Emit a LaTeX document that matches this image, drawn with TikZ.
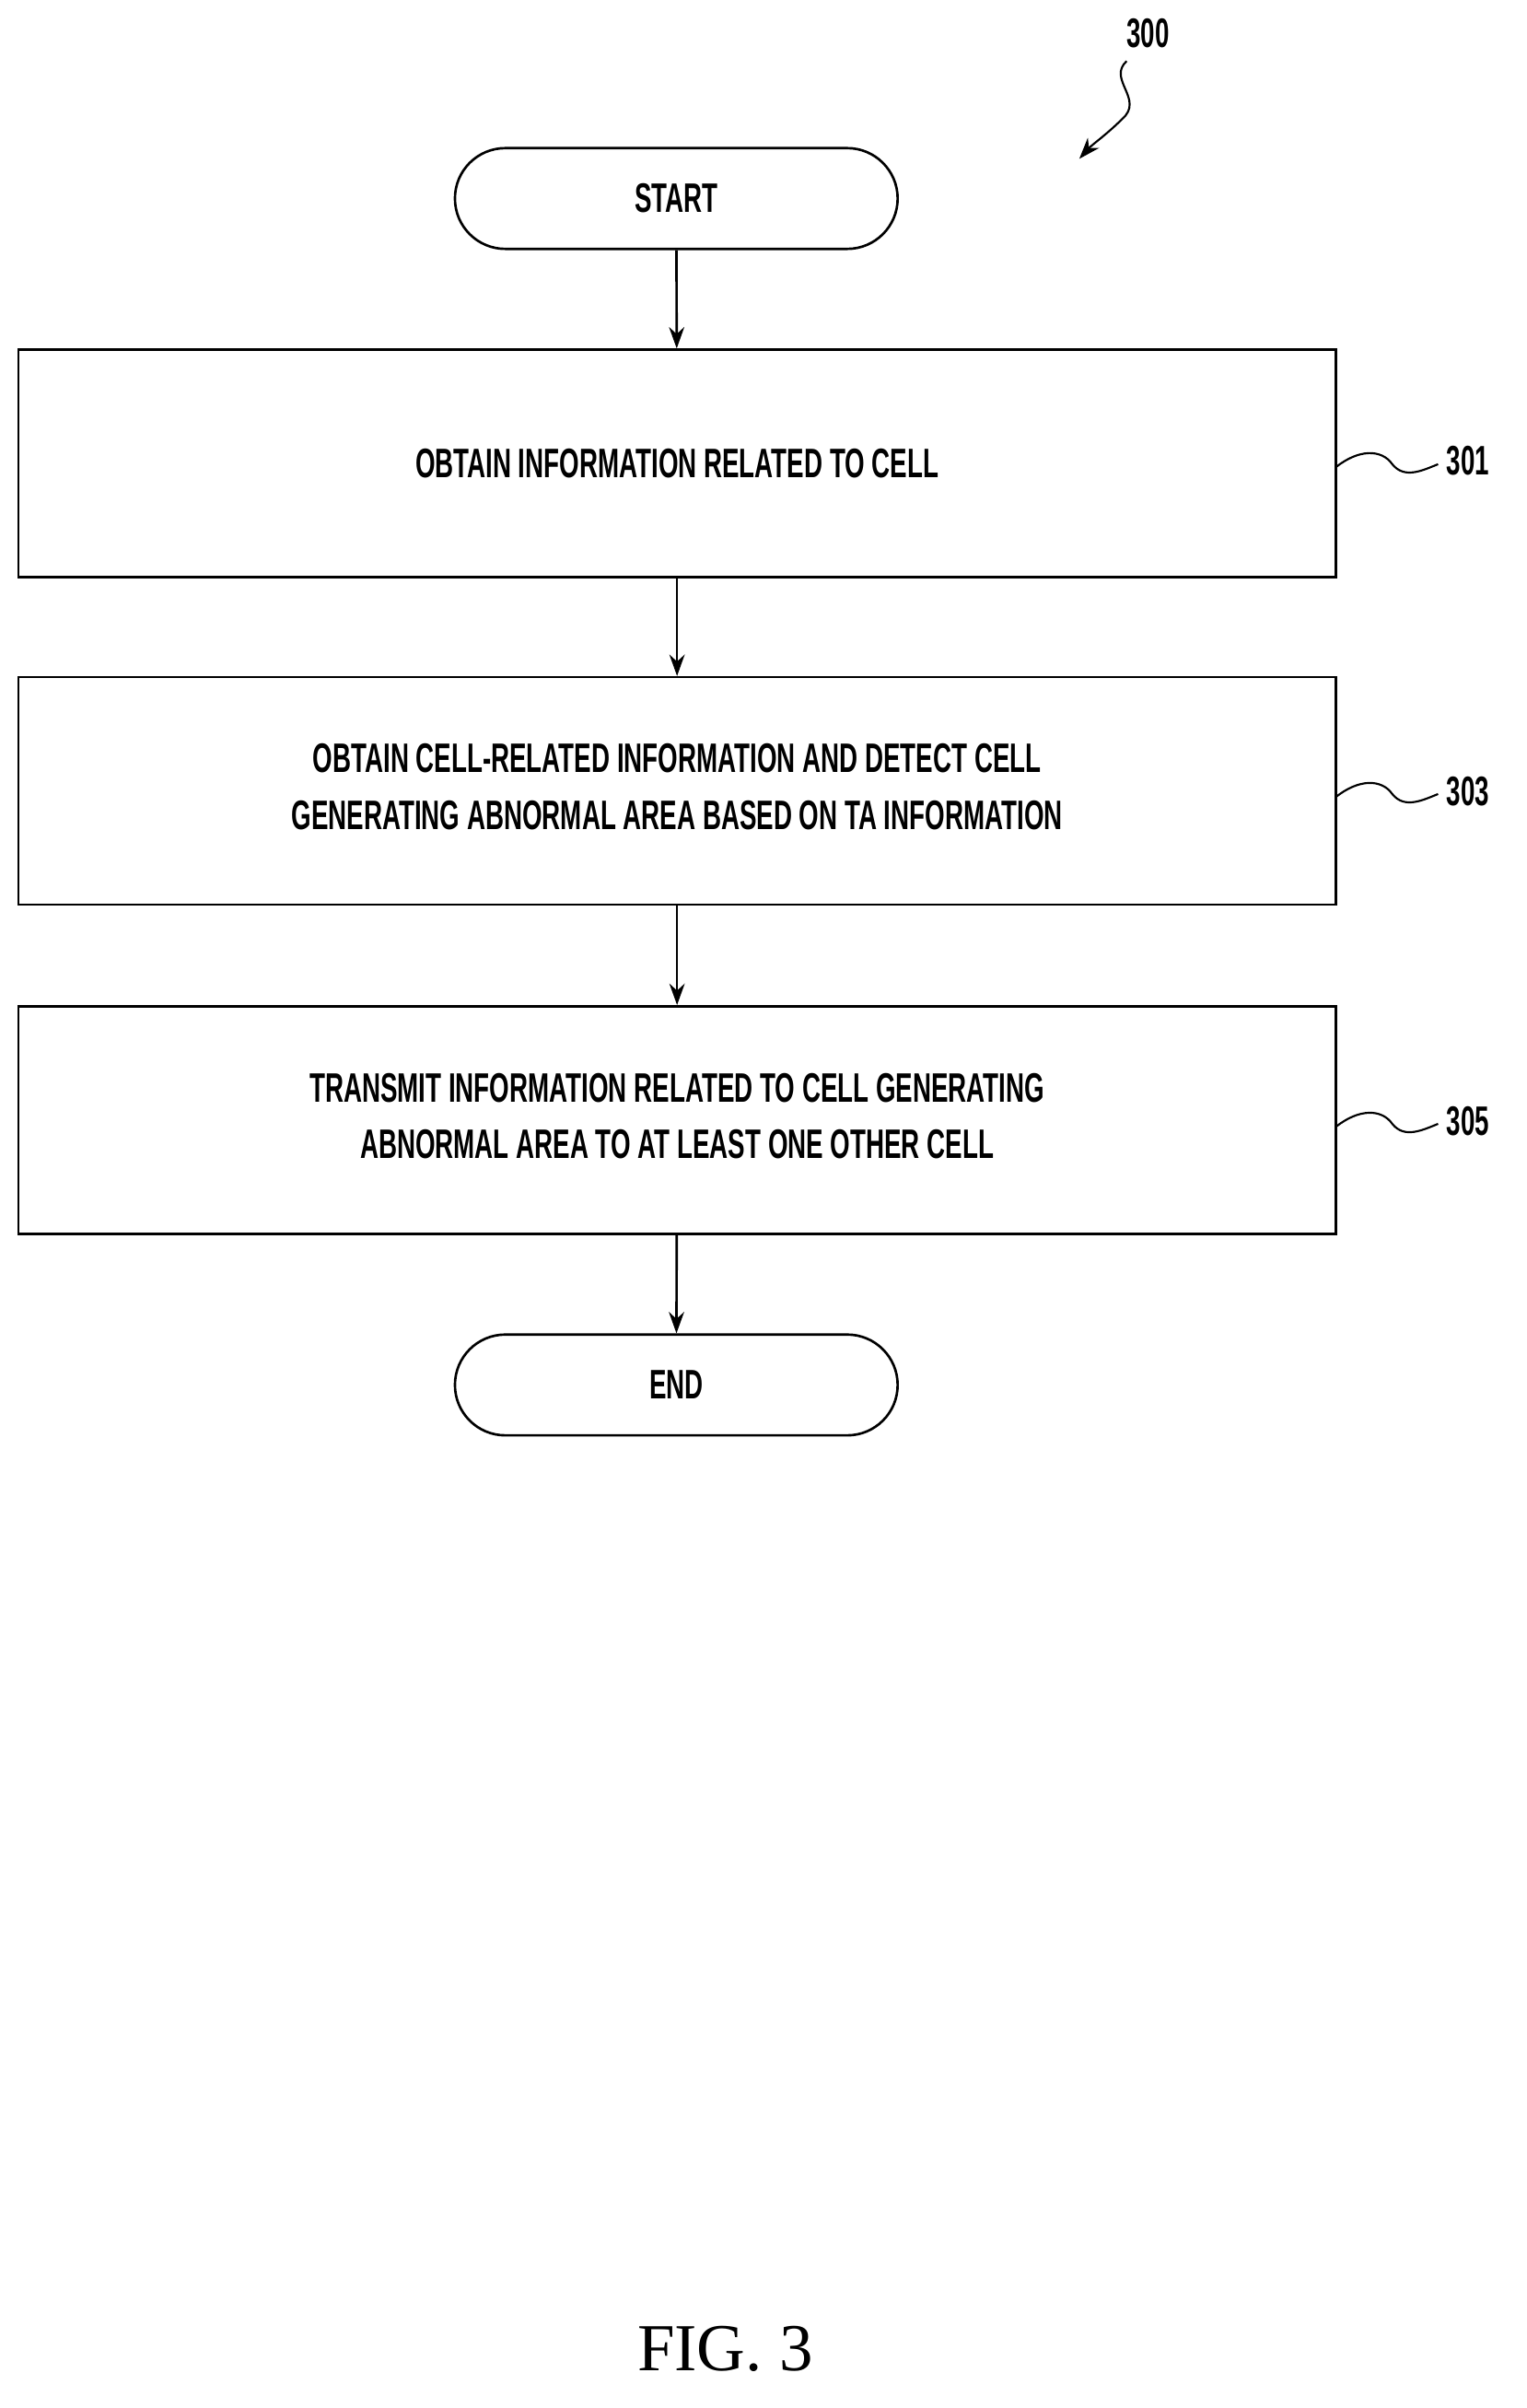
\documentclass[tikz,border=0pt]{standalone}
\usepackage{fontspec}
\setmainfont{Liberation Sans}
\newfontfamily\figfont{Liberation Serif}
\usetikzlibrary{arrows.meta}
\newcommand{\lblf}{\fontsize{27}{33}\selectfont\bfseries}
\newcommand{\tx}[1]{\scalebox{0.62}[1]{#1}}
\begin{document}
\begin{tikzpicture}[x=1pt,y=-1pt,
  box/.style={draw,line width=1.6pt,minimum width=863pt,minimum height=149pt,inner sep=0pt},
  term/.style={draw,line width=1.6pt,rounded corners=33pt,minimum width=290pt,minimum height=66pt,inner sep=0pt},
  arr/.style={line width=1.6pt,-{Stealth[length=14pt,width=10pt]}},
  wav/.style={line width=1.3pt}]
\useasboundingbox (0,0) rectangle (1000,1577);
\fill[white] (0,0) rectangle (1000,1577);
\node[term] (start) at (443,130) {\tx{\lblf START}};
\node[box] (b1) at (443.5,303.5) {\tx{\lblf OBTAIN INFORMATION RELATED TO CELL}};
\node[box] (b2) at (443.5,518) {\tx{\lblf\begin{tabular}{c}OBTAIN CELL-RELATED INFORMATION AND DETECT CELL\\[4pt]GENERATING ABNORMAL AREA BASED ON TA INFORMATION\end{tabular}}};
\node[box] (b3) at (443.5,733.5) {\tx{\lblf\begin{tabular}{c}TRANSMIT INFORMATION RELATED TO CELL GENERATING\\[4pt]ABNORMAL AREA TO AT LEAST ONE OTHER CELL\end{tabular}}};
\node[term] (end) at (443,907) {\tx{\lblf END}};
\draw[arr] (start) -- (b1);
\draw[arr] (b1) -- (b2);
\draw[arr] (b2) -- (b3);
\draw[arr] (b3) -- (end);
\node[anchor=west] (n301) at (944,302) {\tx{\lblf 301}};
\node[anchor=west] (n303) at (944,518) {\tx{\lblf 303}};
\node[anchor=west] (n305) at (944,734) {\tx{\lblf 305}};
\foreach \y in {302,518,734}{
  \draw[wav] (875,\y+4) .. controls (890,\y-8) and (905,\y-8) .. (912,\y+2) .. controls (920,\y+12) and (932,\y+6) .. (942,\y+2);
}
\node (n300) at (752,22) {\tx{\lblf 300}};
\coordinate (s0) at (738,40);
\coordinate (s1) at (707,104);
\draw[line width=1.3pt,-{Stealth[length=14pt,width=10pt]}] (s0) .. controls (725,52) and (750,65) .. (735,78) .. controls (725,88) and (715,95) .. (s1);
\node[font=\figfont\fontsize{44}{50}\selectfont] (fig) at (475,1538) {FIG. 3};
\end{tikzpicture}
\end{document}
